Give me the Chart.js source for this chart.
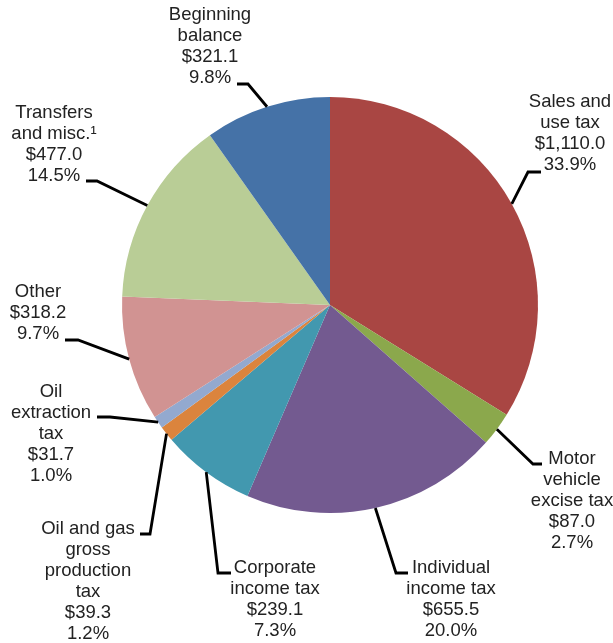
<!DOCTYPE html>
<html lang="en">
<head>
  <meta charset="UTF-8">
  <title>Revenue sources pie</title>
  <style>
    body { margin: 0; background: #fff; }
  </style>
</head>
<body>
  <script src="https://cdn.jsdelivr.net/npm/chart.js"></script>
  <canvas id="myChart" width="613" height="643"></canvas>

<script>
  // slice order, clockwise from 12 o'clock
  const categories = [
    ['Sales and', 'use tax'],
    ['Motor', 'vehicle', 'excise tax'],
    ['Individual', 'income tax'],
    ['Corporate', 'income tax'],
    ['Oil and gas', 'gross', 'production', 'tax'],
    ['Oil', 'extraction', 'tax'],
    ['Other'],
    ['Transfers', 'and misc.\u00B9'],
    ['Beginning', 'balance']
  ];
  const amounts = [1110.0, 87.0, 655.5, 239.1, 39.3, 31.7, 318.2, 477.0, 321.1];
  const percents = [33.9, 2.7, 20.0, 7.3, 1.2, 1.0, 9.7, 14.5, 9.8];
  const colors = ['#A94643', '#8BA84C', '#735A90', '#4298AF', '#DB843D',
                  '#93A9CF', '#D19392', '#B9CD96', '#4572A7'];

  // where each label sits: text centre x, first line y, then the leader's elbow and tail
  const labelPos = [
    { x: 570, y: 102, elbow: [528, 172], tail: [541, 172] },
    { x: 572, y: 459, elbow: [533, 464], tail: [542, 464] },
    { x: 451, y: 568, elbow: [396, 573], tail: [408, 573] },
    { x: 275, y: 568, elbow: [218, 573], tail: [231, 573] },
    { x: 88,  y: 529, elbow: [150, 534], tail: [140, 534] },
    { x: 51,  y: 392, elbow: [110, 417], tail: [97, 417] },
    { x: 38,  y: 292, elbow: [78, 340],  tail: [65, 340] },
    { x: 54,  y: 113, elbow: [97, 181],  tail: [86, 181] },
    { x: 210, y: 15,  elbow: [248, 84],  tail: [237, 84] }
  ];

  function money(v) {
    return '$' + v.toLocaleString('en-US', { minimumFractionDigits: 1, maximumFractionDigits: 1 });
  }

  const pieLabels = {
    id: 'pieLabels',
    afterDraw(chart) {
      const ctx = chart.ctx;
      const arcs = chart.getDatasetMeta(0).data;
      ctx.save();
      ctx.strokeStyle = '#000';
      ctx.lineWidth = 2.8;
      ctx.lineJoin = 'miter';
      arcs.forEach((arc, i) => {
        const p = labelPos[i];
        const mid = (arc.startAngle + arc.endAngle) / 2;
        const ax = arc.x + Math.cos(mid) * arc.outerRadius;
        const ay = arc.y + Math.sin(mid) * arc.outerRadius;
        ctx.beginPath();
        ctx.moveTo(ax, ay);
        ctx.lineTo(p.elbow[0], p.elbow[1]);
        ctx.lineTo(p.tail[0], p.tail[1]);
        ctx.stroke();

        const lines = categories[i].concat([money(amounts[i]), percents[i].toFixed(1) + '%']);
        ctx.fillStyle = '#222';
        ctx.font = '18.5px "Liberation Sans", Arial, sans-serif';
        ctx.textAlign = 'center';
        ctx.textBaseline = 'middle';
        lines.forEach((t, k) => {
          ctx.fillText(t, p.x, p.y + k * 21);
        });
      });
      ctx.restore();
    }
  };

  const config = {
    type: 'pie',
    data: {
      labels: categories.map(c => c.join(' ')),
      datasets: [{
        data: amounts,
        backgroundColor: colors,
        borderWidth: 0
      }]
    },
    options: {
      responsive: false,
      animation: false,
      layout: {
        padding: { left: 122, right: 75, top: 97, bottom: 130 }
      },
      plugins: {
        legend: { display: false },
        tooltip: { enabled: false }
      }
    },
    plugins: [pieLabels]
  };

  var myChart = new Chart(
    document.getElementById('myChart'),
    config
  );
</script>
</body>
</html>
